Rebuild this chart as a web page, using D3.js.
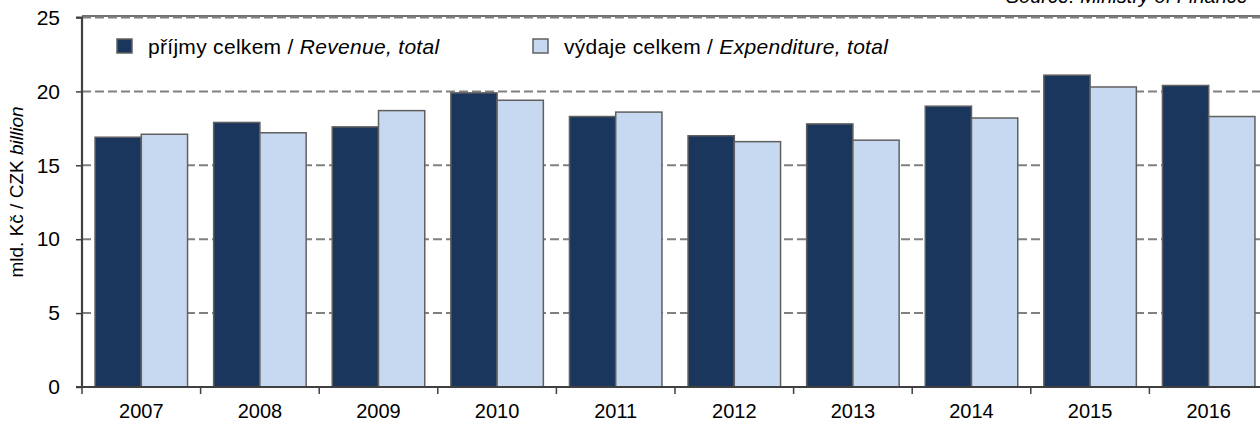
<!DOCTYPE html>
<html><head><meta charset="utf-8">
<script src="https://cdn.jsdelivr.net/npm/d3@7"></script>
<style>
html,body{margin:0;padding:0;background:#fff;}
svg text{font-family:"Liberation Sans",Arial,sans-serif;fill:#000;}
</style></head>
<body><svg id="c" width="1260" height="423"></svg>
<script>
const years = ["2007","2008","2009","2010","2011","2012","2013","2014","2015","2016"];
const revenue = [16.9,17.9,17.6,19.9,18.3,17.0,17.8,19.0,21.1,20.4];
const expenditure = [17.1,17.2,18.7,19.4,18.6,16.6,16.7,18.2,20.3,18.3];
const seriesNames = ["revenue","expenditure"];
const yTicks = [0,5,10,15,20,25];
const legendLabels = [["příjmy celkem / ","Revenue, total"],["výdaje celkem / ","Expenditure, total"]];
const colors = {revenue:"#1b365d", expenditure:"#c6d9f0"};

const svg = d3.select("#c");
const mLeft = 82, mRight = 1268, mTop = 17.5, mBottom = 387;
const y = d3.scaleLinear().domain([0,25]).range([mBottom, mTop]);
const x0 = d3.scaleBand().domain(years).range([mLeft,mRight]).paddingInner(0.22).paddingOuter(0.11);
const x1 = d3.scaleBand().domain(seriesNames).range([0,x0.bandwidth()]);
const step = x0.step();

// top border line
svg.append("line").attr("x1",mLeft).attr("x2",1260).attr("y1",16).attr("y2",16)
  .attr("stroke","#404040").attr("stroke-width",1.5);

// gridlines
svg.append("g").selectAll("line").data(yTicks.filter(d=>d>0)).join("line")
  .attr("x1",mLeft).attr("x2",1260).attr("y1",d=>y(d)).attr("y2",d=>y(d))
  .attr("stroke","#808080").attr("stroke-width",2).attr("stroke-dasharray","9,4");

// bars
const data = years.map((yr,i)=>({yr, revenue:revenue[i], expenditure:expenditure[i]}));
const g = svg.append("g").selectAll("g").data(data).join("g")
  .attr("transform",d=>`translate(${x0(d.yr)},0)`);
g.selectAll("rect").data(d=>seriesNames.map(s=>({s,v:d[s]}))).join("rect")
  .attr("x",d=>x1(d.s)).attr("width",x1.bandwidth())
  .attr("y",d=>y(d.v)).attr("height",d=>y(0)-y(d.v))
  .attr("fill",d=>colors[d.s]).attr("stroke","#606060").attr("stroke-width",1.5);

// y axis
const ya = svg.append("g").attr("transform",`translate(${mLeft},0)`)
  .call(d3.axisLeft(y).tickValues(yTicks).tickSize(6).tickPadding(16).tickFormat(d3.format("d")));
ya.select(".domain").attr("stroke","#404040").attr("stroke-width",2.2).attr("d",`M-6,${y(0)}H0V${y(25)}H-6`);
ya.selectAll(".tick line").attr("stroke","#404040").attr("stroke-width",1.5);
ya.selectAll(".tick text").attr("font-size",21).attr("font-family","Liberation Sans, Arial, sans-serif").attr("fill","#000");

// x axis
const bounds = years.map(yr=>x0(yr)-step*x0.paddingInner()/2);
const xa = svg.append("g").attr("transform",`translate(0,${mBottom})`);
xa.append("line").attr("x1",mLeft).attr("x2",1260).attr("stroke","#404040").attr("stroke-width",2);
xa.selectAll("line.t").data(bounds).join("line").attr("class","t")
  .attr("x1",d=>d).attr("x2",d=>d).attr("y1",0).attr("y2",7).attr("stroke","#404040").attr("stroke-width",1.5);
xa.selectAll("text").data(years).join("text")
  .attr("x",d=>x0(d)+x0.bandwidth()/2).attr("y",31).attr("text-anchor","middle")
  .attr("font-size",20).text(d=>d);

// y label
svg.append("text").attr("transform","translate(23,192) rotate(-90)").attr("text-anchor","middle")
  .attr("font-size",19)
  .call(t=>{t.append("tspan").text("mld. Kč / "); t.append("tspan").text("CZK ");
            t.append("tspan").attr("font-style","italic").text("billion");});

// legend
const legX = [117, 533];
legendLabels.forEach((lab,i)=>{
  const s = seriesNames[i];
  svg.append("rect").attr("x",legX[i]).attr("y",39).attr("width",15).attr("height",14)
    .attr("fill",colors[s]).attr("stroke","#606060").attr("stroke-width",1.5);
  const t = svg.append("text").attr("x",legX[i]+31).attr("y",54).attr("font-size",21).attr("letter-spacing",0.3);
  t.append("tspan").text(lab[0]);
  t.append("tspan").attr("font-style","italic").text(lab[1]);
});

// source
svg.append("text").attr("x",1248).attr("y",3).attr("text-anchor","end").attr("font-size",20)
  .attr("font-style","italic").text("Source: Ministry of Finance");
</script></body></html>
